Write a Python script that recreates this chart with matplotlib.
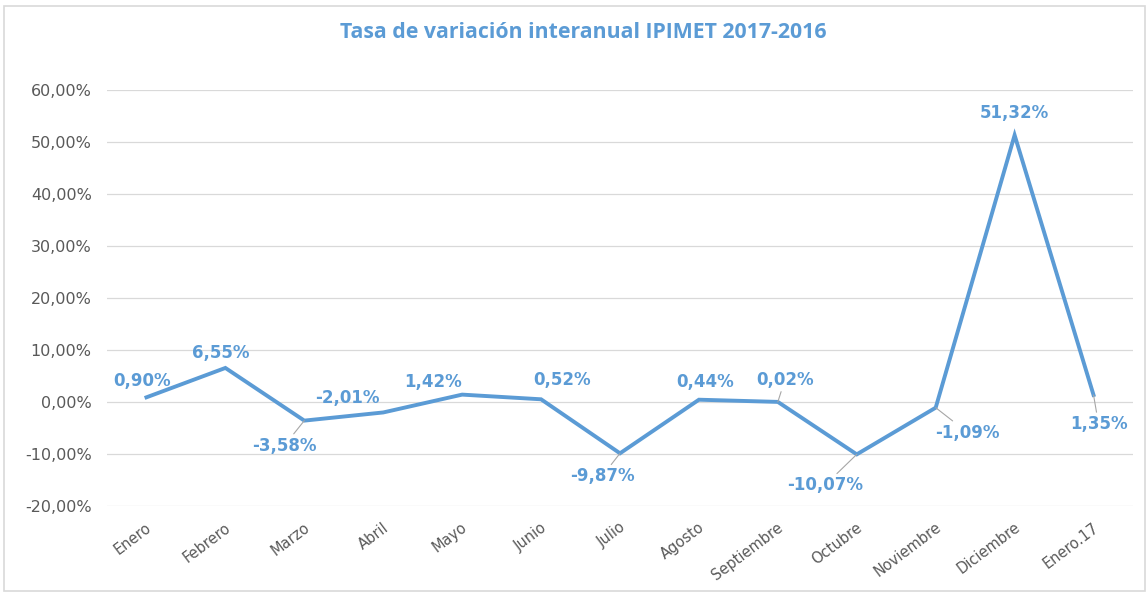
import matplotlib
matplotlib.use("Agg")
import matplotlib.pyplot as plt
import matplotlib.ticker as mticker
import matplotlib.transforms as mtransforms
from matplotlib.patches import Rectangle

# datos
meses = ["Enero", "Febrero", "Marzo", "Abril", "Mayo", "Junio", "Julio",
         "Agosto", "Septiembre", "Octubre", "Noviembre", "Diciembre", "Enero.17"]
tasa = [0.90, 6.55, -3.58, -2.01, 1.42, 0.52, -9.87,
        0.44, 0.02, -10.07, -1.09, 51.32, 1.35]

# colocacion de las etiquetas (pixeles) y si llevan linea guia
label_off = [(-4, 16), (-5, 15), (-20, -25), (-36, 14), (-29, 13), (21, 19), (-18, -23),
             (6, 18), (7, 22), (-32, -31), (32, -25), (0, 22), (5, -29)]
leader = [False, False, True, False, False, False, True,
          False, True, True, True, False, True]

AZUL = "#5B9BD5"
GRIS = "#595959"

fig = plt.figure(figsize=(11.48, 5.92), dpi=100)
fig.patches.append(Rectangle((4 / 1148, 1 / 592), 1141 / 1148, 585 / 592,
                             transform=fig.transFigure, fill=False,
                             edgecolor="#D9D9D9", lw=1.2))

ax = fig.add_axes([107 / 1148, 1 - 506 / 592, 1026 / 1148, 416 / 592])
x = list(range(len(meses)))
ax.plot(x, tasa, color=AZUL, lw=2.8, solid_joinstyle="miter")

for i, v in enumerate(tasa):
    txt = ("%.2f%%" % v).replace(".", ",")
    dx, dy = label_off[i]
    props = None
    if leader[i]:
        props = dict(arrowstyle="-", color="#A6A6A6", lw=0.8, shrinkA=0, shrinkB=0)
    ax.annotate(txt, (i, v), xytext=(dx, dy), textcoords="offset pixels",
                ha="center", va="center", color=AZUL, fontsize=12,
                fontweight="bold", family="DejaVu Sans", arrowprops=props)

ax.set_xlim(-0.5, len(meses) - 0.5)
ax.set_ylim(-20, 60)
ax.yaxis.set_major_locator(mticker.MultipleLocator(10))
ax.yaxis.set_major_formatter(mticker.FuncFormatter(
    lambda v, p: ("%.2f%%" % v).replace(".", ",")))
ax.set_xticks(x)
ax.set_xticklabels(meses, rotation=37, ha="right", va="top", rotation_mode="anchor")
ax.tick_params(length=0, colors=GRIS)
ax.tick_params(axis="x", pad=10, labelsize=10.5)
ax.tick_params(axis="y", pad=11, labelsize=11.5)
shift = mtransforms.ScaledTranslation(-0.01, 0, fig.dpi_scale_trans)
for lab in ax.get_xticklabels():
    lab.set_transform(lab.get_transform() + shift)
ax.grid(axis="y", color="#D9D9D9", lw=0.9)
ax.set_axisbelow(True)
for s in ax.spines.values():
    s.set_visible(False)

fig.text(583 / 1148, 1 - 32 / 592, "Tasa de variación interanual IPIMET 2017-2016",
         ha="center", va="center", color=AZUL, fontsize=15.3, fontweight="bold",
         family="Open Sans")

fig.savefig("out.png", dpi=100, facecolor="white")
